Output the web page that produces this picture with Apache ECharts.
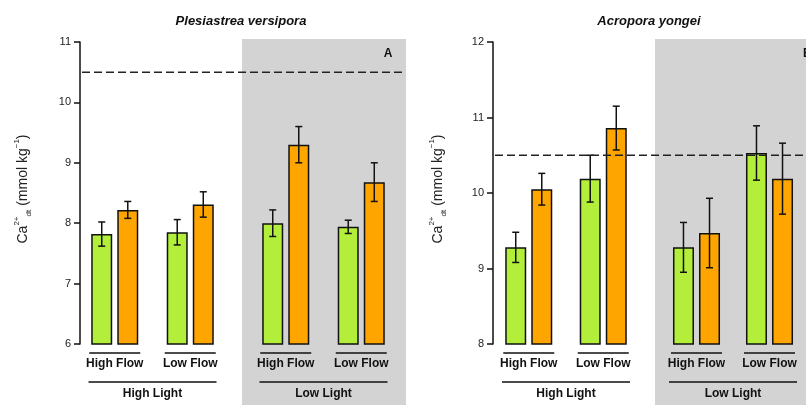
<!DOCTYPE html>
<html>
<head>
<meta charset="utf-8">
<script src="https://cdn.jsdelivr.net/npm/echarts@6/dist/echarts.min.js"></script>
<style>html,body{margin:0;padding:0;background:#fff;}#c{width:806px;height:405px;}</style>
</head>
<body>
<div id="c"></div>
<script>
// ---- data ----
const flowCategories = ['High Flow', 'Low Flow'];
const lightGroups = ['High Light', 'Low Light'];
const panelTitles = ['Plesiastrea versipora', 'Acropora yongei'];
const panelLetters = ['A', 'B'];
const referenceLevel = 10.5;
// order: High Light-High Flow, High Light-Low Flow, Low Light-High Flow, Low Light-Low Flow
const pvGreenMean  = [7.82, 7.85, 8.00, 7.94];
const pvGreenErr   = [0.20, 0.21, 0.22, 0.11];
const pvOrangeMean = [8.22, 8.31, 9.30, 8.68];
const pvOrangeErr  = [0.14, 0.21, 0.30, 0.32];
const ayGreenMean  = [9.28, 10.19, 9.28, 10.53];
const ayGreenErr   = [0.20, 0.31, 0.33, 0.36];
const ayOrangeMean = [10.05, 10.86, 9.47, 10.19];
const ayOrangeErr  = [0.21, 0.29, 0.46, 0.47];
const pvTicks = [6, 7, 8, 9, 10, 11];
const ayTicks = [8, 9, 10, 11, 12];

// ---- styles ----
const GREEN = '#b3ee3a', ORANGE = '#ffa500', GRAY = '#d3d3d3';
const BAR_W = 21, GAP = 0.24;
const FONT = 'Liberation Sans, Arial, sans-serif';

const chart = echarts.init(document.getElementById('c'), null, {renderer: 'canvas'});

const grids = [
  {left: 77, width: 151, top: 42, bottom: 61},
  {left: 248, width: 151, top: 42, bottom: 61},
  {left: 491.5, width: 149, top: 42, bottom: 61},
  {left: 660, width: 152, top: 42, bottom: 61}
];

const panels = [
  {ticks: pvTicks, g: pvGreenMean, ge: pvGreenErr, o: pvOrangeMean, oe: pvOrangeErr, offset: -3},
  {ticks: ayTicks, g: ayGreenMean, ge: ayGreenErr, o: ayOrangeMean, oe: ayOrangeErr, offset: -1.5}
];

const xAxes = [], yAxes = [], series = [];
for (let gi = 0; gi < 4; gi++) {
  const p = panels[Math.floor(gi / 2)];
  const half = gi % 2; // 0 high light, 1 low light
  xAxes.push({
    type: 'category', gridIndex: gi, data: flowCategories,
    axisLine: {show: false}, axisTick: {show: false},
    axisLabel: {interval: 0, margin: 14, fontSize: 12, fontWeight: 'bold', color: '#111', fontFamily: FONT}
  });
  const first = half === 0;
  yAxes.push({
    type: 'value', gridIndex: gi, min: p.ticks[0], max: p.ticks[p.ticks.length - 1], interval: 1,
    offset: first ? p.offset : 0,
    show: first,
    splitLine: {show: false},
    axisLine: {show: true, lineStyle: {color: '#111', width: 1.5}},
    axisTick: {show: true, inside: false, length: 6, lineStyle: {color: '#111', width: 1.5}},
    axisLabel: {fontSize: 11, color: '#222', margin: 9, fontFamily: FONT}
  });
  const idx = [half * 2, half * 2 + 1];
  series.push({
    type: 'bar', xAxisIndex: gi, yAxisIndex: gi, barWidth: BAR_W, barGap: (GAP * 100) + '%',
    data: idx.map(i => p.g[i]),
    itemStyle: {color: GREEN, borderColor: '#111', borderWidth: 1.5}, z: 2
  });
  series.push({
    type: 'bar', xAxisIndex: gi, yAxisIndex: gi, barWidth: BAR_W,
    data: idx.map(i => p.o[i]),
    itemStyle: {color: ORANGE, borderColor: '#111', borderWidth: 1.5}, z: 2
  });
  const errData = [];
  idx.forEach((i, c) => {
    errData.push([c, p.g[i] - p.ge[i], p.g[i] + p.ge[i], 0]);
    errData.push([c, p.o[i] - p.oe[i], p.o[i] + p.oe[i], 1]);
  });
  series.push({
    type: 'custom', xAxisIndex: gi, yAxisIndex: gi, z: 5,
    data: errData,
    encode: {x: 0, y: [1, 2]},
    renderItem: function (params, api) {
      const cat = api.value(0), lo = api.value(1), hi = api.value(2), which = api.value(3);
      const off = (which === 0 ? -1 : 1) * (BAR_W + BAR_W * GAP) / 2;
      const pt = api.coord([cat, hi]), pb = api.coord([cat, lo]);
      const x = pt[0] + off, cw = 3.5;
      const st = {stroke: '#111', lineWidth: 1.5};
      return {type: 'group', children: [
        {type: 'line', shape: {x1: x, y1: pt[1], x2: x, y2: pb[1]}, style: st},
        {type: 'line', shape: {x1: x - cw, y1: pt[1], x2: x + cw, y2: pt[1]}, style: st},
        {type: 'line', shape: {x1: x - cw, y1: pb[1], x2: x + cw, y2: pb[1]}, style: st}
      ]};
    }
  });
}

chart.setOption({
  animation: false,
  backgroundColor: '#fff',
  textStyle: {fontFamily: FONT},
  title: [
    {text: panelTitles[0], left: 236, top: 10, textAlign: 'center',
     textStyle: {fontSize: 13, fontStyle: 'italic', fontWeight: 'bold', color: '#111', fontFamily: FONT}},
    {text: panelTitles[1], left: 644, top: 10, textAlign: 'center',
     textStyle: {fontSize: 13, fontStyle: 'italic', fontWeight: 'bold', color: '#111', fontFamily: FONT}}
  ],
  grid: grids,
  xAxis: xAxes,
  yAxis: yAxes,
  series: series
});

// ---- decorations derived from axes ----
const gfx = [];
// gray backgrounds for low-light halves
gfx.push({type: 'rect', z: -10, shape: {x: 242, y: 39, width: 164, height: 366}, style: {fill: GRAY}});
gfx.push({type: 'rect', z: -10, shape: {x: 655, y: 39, width: 151, height: 366}, style: {fill: GRAY}});

const yAxisTitle = '{m|Ca}{sup|2+}{sub|dt}{m|(mmol kg}{sup|−1}{m|)}';
const yRich = {
  m: {fontSize: 14, fill: '#222', fontFamily: FONT, lineHeight: 20, verticalAlign: 'middle'},
  sup: {fontSize: 8, fill: '#222', fontFamily: FONT, verticalAlign: 'top', lineHeight: 20},
  sub: {fontSize: 8, fill: '#222', fontFamily: FONT, verticalAlign: 'bottom', lineHeight: 20, padding: [0, 4, 0, 0]}
};
const nameX = [23, 438];
for (let pi = 0; pi < 2; pi++) {
  const g0 = pi * 2;
  const yRef = chart.convertToPixel({yAxisIndex: g0}, referenceLevel);
  const yMid = (chart.convertToPixel({yAxisIndex: g0}, panels[pi].ticks[0]) +
                chart.convertToPixel({yAxisIndex: g0}, panels[pi].ticks[panels[pi].ticks.length - 1])) / 2;
  const axisX = grids[g0].left - panels[pi].offset;
  const rightEnd = pi === 0 ? 403 : 806;
  gfx.push({type: 'line', z: 10, shape: {x1: axisX + 2, y1: yRef, x2: rightEnd, y2: yRef},
            style: {stroke: '#222', lineWidth: 1.5, lineDash: [8, 4]}});
  gfx.push({type: 'text', z: 10, x: nameX[pi], y: yMid - 4, rotation: Math.PI / 2,
            style: {text: yAxisTitle, rich: yRich, align: 'center', verticalAlign: 'middle'}});
  // panel letter
  gfx.push({type: 'text', z: 10, x: pi === 0 ? 388 : 803, y: 54,
            style: {text: panelLetters[pi], fontSize: 12, fontWeight: 'bold', fill: '#111', fontFamily: FONT,
                    align: pi === 0 ? 'center' : 'left', verticalAlign: 'middle'}});
  for (let h = 0; h < 2; h++) {
    const gi = g0 + h;
    const yb = chart.convertToPixel({yAxisIndex: gi}, panels[pi].ticks[0]);
    const cx = flowCategories.map(c => chart.convertToPixel({xAxisIndex: gi}, c));
    cx.forEach(x => {
      gfx.push({type: 'line', z: 10, shape: {x1: x - 25.5, y1: yb + 9, x2: x + 25.5, y2: yb + 9},
                style: {stroke: '#111', lineWidth: 1.5}});
    });
    const mid = (cx[0] + cx[1]) / 2;
    gfx.push({type: 'line', z: 10, shape: {x1: mid - 64, y1: yb + 38, x2: mid + 64, y2: yb + 38},
              style: {stroke: '#111', lineWidth: 1.5}});
    gfx.push({type: 'text', z: 10, x: mid, y: yb + 50,
              style: {text: lightGroups[h], fontSize: 12, fontWeight: 'bold', fill: '#111', fontFamily: FONT,
                      align: 'center', verticalAlign: 'middle'}});
  }
}
chart.setOption({graphic: gfx});
</script>
</body>
</html>
